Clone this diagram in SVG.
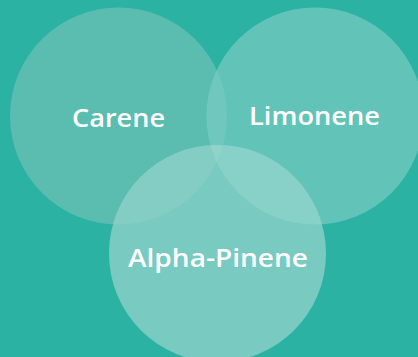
<svg xmlns="http://www.w3.org/2000/svg" width="418" height="357" viewBox="0 0 418 357">
<defs>
<style>
.lbl{font-family:"Open Sans","Noto Sans","Liberation Sans",sans-serif;font-size:25px;font-weight:600;fill:#ffffff;text-anchor:middle;}
</style>
<clipPath id="c1"><circle cx="118.5" cy="116" r="108.5"/></clipPath>
<clipPath id="c2"><circle cx="315" cy="116" r="108.5"/></clipPath>
<clipPath id="c3"><circle cx="217.5" cy="253.5" r="108.5"/></clipPath>
</defs>
<rect width="418" height="357" fill="#2cb2a3"/>
<g id="node-carene">
<circle cx="118.5" cy="116" r="108.5" fill="#5bbcb0"/>
</g>
<g id="node-limonene">
<circle cx="315" cy="116" r="108.5" fill="#62c4b8"/>
<g clip-path="url(#c1)"><circle cx="315" cy="116" r="108.5" fill="#6fc7bd"/></g>
</g>
<g id="node-alpha-pinene">
<circle cx="217.5" cy="253.5" r="108.5" fill="#79cac1"/>
<g clip-path="url(#c1)"><circle cx="217.5" cy="253.5" r="108.5" fill="#84cdc5"/></g>
<g clip-path="url(#c2)"><circle cx="217.5" cy="253.5" r="108.5" fill="#88d1c8"/></g>
<g clip-path="url(#c1)"><g clip-path="url(#c2)"><circle cx="217.5" cy="253.5" r="108.5" fill="#8fd3cb"/></g></g>
</g>
<g id="labels">
<text class="lbl" x="118.5" y="127" textLength="93" lengthAdjust="spacingAndGlyphs">Carene</text>
<text class="lbl" x="314.5" y="125" textLength="131" lengthAdjust="spacingAndGlyphs">Limonene</text>
<text class="lbl" x="218" y="267" textLength="180" lengthAdjust="spacingAndGlyphs">Alpha-Pinene</text>
</g>
<g id="connectors"/>
</svg>
